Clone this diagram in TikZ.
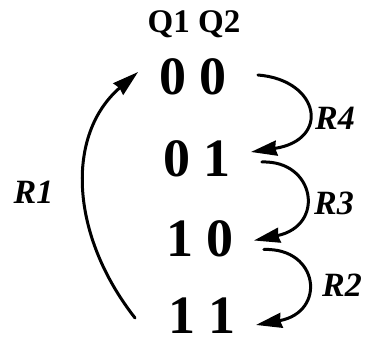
\documentclass[tikz,border=0pt]{standalone}
\usepackage{fontspec}
\setmainfont{Liberation Serif}
\usepackage{tikz}
\usetikzlibrary{arrows.meta,positioning}
\tikzset{
  statenode/.style={inner xsep=21pt, inner ysep=0pt, font=\fontsize{54}{54}\selectfont\bfseries},
  headnode/.style={inner sep=0pt, font=\fontsize{33}{33}\selectfont\bfseries},
  rlabel/.style={inner sep=0pt, font=\fontsize{34}{34}\selectfont\bfseries\itshape},
  transln/.style={-{Stealth[length=26pt,width=15pt,inset=1.5pt]}, line width=3pt, line cap=round},
}
\begin{document}
\begin{tikzpicture}[x=1pt,y=1pt]
    \useasboundingbox (0,0) rectangle (368,345);
    \node[headnode] (head) at (194,321) {Q1 Q2};
    \node[statenode] (s00) at (193,268) {0 0};
    \node[statenode] (s01) at (197,186) {0 1};
    \node[statenode] (s10) at (200,106.5) {1 0};
    \node[statenode] (s11) at (202,29) {1 1};
    % transitions
    \draw[transln] ([xshift=10pt,yshift=2pt]s00.east)
      .. controls +(62,-5) and +(80,12) .. ([xshift=-1pt,yshift=7pt]s01.east);
    \draw[transln] ([xshift=10pt,yshift=-3pt]s01.east)
      .. controls +(53,2) and +(72,15) .. ([xshift=-1pt,yshift=-2pt]s10.east);
    \draw[transln] ([xshift=9pt,yshift=-11pt]s10.east)
      .. controls +(55,2) and +(71,13) .. ([xshift=-1pt,yshift=-9pt]s11.east);
    \draw[transln] ([xshift=-12pt,yshift=-2pt]s11.west)
      .. controls +(-65,83) and +(-73,-63) .. ([yshift=5pt]s00.west);
    \node[rlabel] (r4) at (335,227) {R4};
    \node[rlabel] (r3) at (334,142) {R3};
    \node[rlabel] (r2) at (342,60) {R2};
    \node[rlabel] (r1) at (33.5,152.5) {R1};
\end{tikzpicture}
\end{document}
